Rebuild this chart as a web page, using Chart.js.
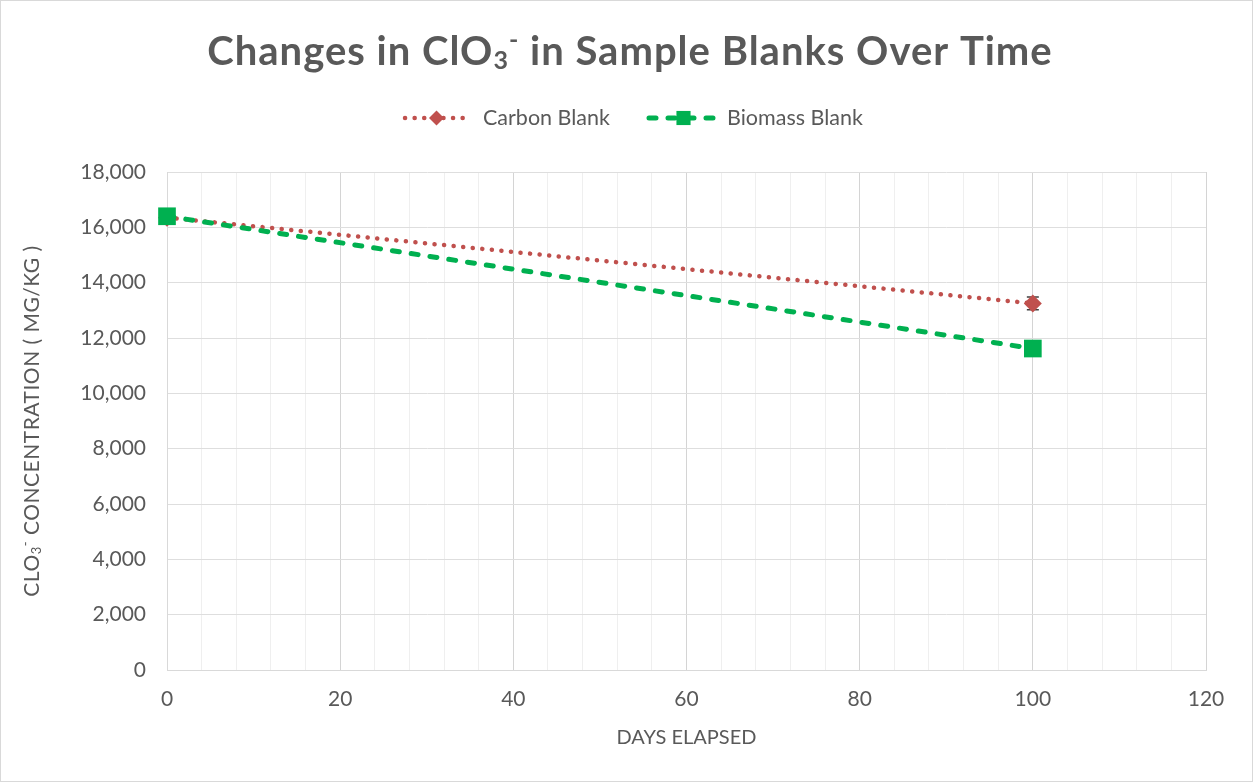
<!DOCTYPE html>
<html>
<head>
<meta charset="utf-8">
<script src="https://cdn.jsdelivr.net/npm/chart.js@4"></script>
<style>
  body { margin: 0; background: #fff; }
  canvas { display: block; }
</style>
</head>
<body>
<canvas id="myChart" width="1253" height="782"></canvas>
<script>
// data
const days = [0, 100];
const carbonBlank = [16350, 13250];
const biomassBlank = [16400, 11620];
const carbonErr = [0, 230];
const biomassErr = [0, 0];
const seriesNames = ['Carbon Blank', 'Biomass Blank'];

const FONT = 'Lato, "Open Sans", sans-serif';
const GREY = '#595959';

function toPoints(xs, ys) {
  return xs.map((x, i) => ({ x: x, y: ys[i] }));
}

// draw text made of parts, some sub/superscript, centred on x
function drawRich(ctx, parts, x, y, size, weight, spacing) {
  ctx.letterSpacing = spacing || '0px';
  let total = 0;
  parts.forEach(p => {
    ctx.font = weight + ' ' + Math.round(size * (p.scale || 1)) + 'px ' + FONT;
    p.w = ctx.measureText(p.t).width;
    total += p.w;
  });
  let cx = x - total / 2;
  ctx.textAlign = 'left';
  ctx.textBaseline = 'middle';
  parts.forEach(p => {
    ctx.font = weight + ' ' + Math.round(size * (p.scale || 1)) + 'px ' + FONT;
    ctx.fillText(p.t, cx, y + (p.dy || 0) * size);
    cx += p.w;
  });
  ctx.letterSpacing = '0px';
}

const extras = {
  id: 'extras',
  beforeDatasetsDraw(chart) {
    // error bars, under the markers
    const ctx = chart.ctx;
    const xs = chart.scales.x, ys = chart.scales.y;
    ctx.save();
    ctx.strokeStyle = '#404040';
    ctx.lineWidth = 1.5;
    chart.data.datasets.forEach(ds => {
      ds.err.forEach((e, i) => {
        if (!e) return;
        const px = xs.getPixelForValue(ds.data[i].x);
        const top = ys.getPixelForValue(ds.data[i].y + e);
        const bot = ys.getPixelForValue(ds.data[i].y - e);
        ctx.beginPath();
        ctx.moveTo(px, top); ctx.lineTo(px, bot);
        ctx.moveTo(px - 6, top); ctx.lineTo(px + 6, top);
        ctx.moveTo(px - 6, bot); ctx.lineTo(px + 6, bot);
        ctx.stroke();
      });
    });
    ctx.restore();
  },
  afterDraw(chart) {
    const ctx = chart.ctx;
    const area = chart.chartArea;
    ctx.save();
    ctx.fillStyle = GREY;

    // title
    drawRich(ctx, [
      { t: 'Changes in ClO' },
      { t: '3', scale: 0.62, dy: 0.22 },
      { t: '-', scale: 0.62, dy: -0.3 },
      { t: ' in Sample Blanks Over Time' }
    ], 630, 52, 40, 'bold', '1px');

    // x axis title
    ctx.font = '20px ' + FONT;
    ctx.textAlign = 'center';
    ctx.textBaseline = 'middle';
    ctx.fillText('DAYS ELAPSED', (area.left + area.right) / 2, 738);

    // y axis title
    ctx.save();
    ctx.translate(32, (area.top + area.bottom) / 2);
    ctx.rotate(-Math.PI / 2);
    drawRich(ctx, [
      { t: 'CLO' },
      { t: '3', scale: 0.62, dy: 0.25 },
      { t: '-', scale: 0.62, dy: -0.3 },
      { t: ' CONCENTRATION ( MG/KG )' }
    ], 0, 0, 21, 'normal', '0.5px');
    ctx.restore();

    // legend
    const items = [
      { x0: 405, x1: 468, tx: 483 },
      { x0: 649, x1: 718, tx: 727 }
    ];
    chart.data.datasets.forEach((ds, i) => {
      const it = items[i];
      const y = 118;
      ctx.save();
      ctx.strokeStyle = ds.borderColor;
      ctx.lineWidth = ds.borderWidth;
      ctx.lineCap = 'round';
      ctx.setLineDash(ds.borderDash);
      ctx.beginPath();
      ctx.moveTo(it.x0, y); ctx.lineTo(it.x1, y);
      ctx.stroke();
      ctx.setLineDash([]);
      ctx.fillStyle = ds.pointBackgroundColor;
      ctx.strokeStyle = ds.pointBackgroundColor;
      Chart.helpers.drawPoint(ctx, {
        pointStyle: ds.pointStyle,
        radius: ds.legendRadius,
        rotation: 0,
        borderWidth: 0
      }, (it.x0 + it.x1) / 2, y);
      ctx.restore();
      ctx.font = '21.5px ' + FONT;
      ctx.textAlign = 'left';
      ctx.textBaseline = 'middle';
      ctx.fillText(ds.label, it.tx, y);
    });

    // chart border
    ctx.strokeStyle = '#d9d9d9';
    ctx.lineWidth = 1;
    ctx.strokeRect(0.5, 0.5, chart.width - 1, chart.height - 1);
    ctx.restore();
  }
};

const data = {
  datasets: [{
    label: seriesNames[0],
    data: toPoints(days, carbonBlank),
    err: carbonErr,
    order: 1,
    borderColor: '#C0504D',
    borderWidth: 4.5,
    borderDash: [0.1, 9.5],
    borderCapStyle: 'round',
    pointStyle: 'rectRot',
    pointRadius: 9,
    pointHoverRadius: 9,
    legendRadius: 7.5,
    pointBackgroundColor: '#C0504D',
    pointBorderWidth: 0,
    clip: false
  }, {
    label: seriesNames[1],
    data: toPoints(days, biomassBlank),
    err: biomassErr,
    order: 0,
    borderColor: '#00B050',
    borderWidth: 5,
    borderDash: [7, 12],
    borderCapStyle: 'round',
    pointStyle: 'rect',
    pointRadius: 12.5,
    pointHoverRadius: 12.5,
    legendRadius: 10,
    pointBackgroundColor: '#00B050',
    pointBorderWidth: 0,
    clip: false
  }]
};

const config = {
  type: 'line',
  data: data,
  options: {
    responsive: false,
    animation: false,
    events: [],
    layout: { padding: { top: 172, right: 47, bottom: 0, left: 0 } },
    plugins: {
      legend: { display: false },
      title: { display: false },
      tooltip: { enabled: false }
    },
    scales: {
      x: {
        type: 'linear',
        min: 0,
        max: 120,
        afterFit: s => { s.height = 112; },
        ticks: {
          stepSize: 4,
          autoSkip: false,
          maxRotation: 0,
          padding: 17,
          color: GREY,
          font: { family: FONT, size: 21 },
          callback: v => (v % 20 === 0 ? v : '')
        },
        grid: {
          drawTicks: false,
          color: c => (c.tick && c.tick.value % 20 === 0 ? '#d4d4d4' : '#efefef'),
          lineWidth: 1
        },
        border: { color: '#d9d9d9' }
      },
      y: {
        min: 0,
        max: 18000,
        afterFit: s => { s.width = 167; },
        ticks: {
          stepSize: 2000,
          padding: 21,
          color: GREY,
          font: { family: FONT, size: 21 },
          callback: v => v.toLocaleString('en-US')
        },
        grid: { drawTicks: false, color: '#dedede', lineWidth: 1 },
        border: { color: '#d9d9d9' }
      }
    }
  },
  plugins: [extras]
};

const myChart = new Chart(document.getElementById('myChart'), config);
</script>
</body>
</html>
